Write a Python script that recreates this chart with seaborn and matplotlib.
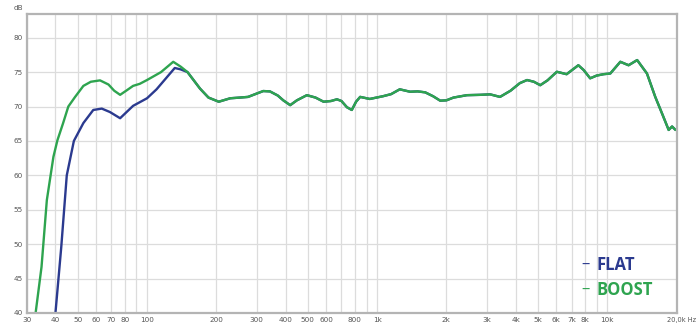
import matplotlib
matplotlib.use("Agg")
import matplotlib.pyplot as plt
import seaborn as sns
import pandas as pd

# Frequency response, measured points (Hz, dB)
flat_hz = [40, 42.4, 44.8, 48.1, 52.9, 58.4, 63.6, 69, 76.4, 87, 100, 110, 132, 140]
flat_db = [40.0, 49.6, 60.0, 65.0, 67.6, 69.5, 69.7, 69.2, 68.3, 70.1, 71.2, 72.5, 75.6, 75.4]

boost_hz = [32.8, 34.8, 36.7, 39.2, 40.8, 43.2, 45.5, 48.7, 52.9, 57, 62.5, 68, 72,
            76.4, 82, 87, 93, 100, 115, 130, 140]
boost_db = [40.0, 46.7, 56.4, 62.7, 65.1, 67.6, 70.0, 71.4, 73.0, 73.6, 73.8, 73.2, 72.3,
            71.7, 72.4, 73.0, 73.3, 73.85, 75.0, 76.5, 75.8]

# Above ~150 Hz both settings give the same response
shared_hz = [150, 170, 185, 205, 230, 253, 275, 290, 320, 342, 370, 391, 419, 448, 495,
             540, 585, 630, 669, 700, 739, 776, 810, 844, 929, 1061, 1150, 1254, 1391,
             1500, 1618, 1750, 1880, 2000, 2146, 2456, 2800, 3097, 3420, 3800, 4170,
             4482, 4800, 5115, 5500, 6040, 6660, 7490, 7900, 8430, 9000, 9645, 10310,
             11400, 12380, 13490, 14880, 16170, 17300, 18490, 19130, 19800]
shared_db = [75.0, 72.6, 71.3, 70.7, 71.2, 71.3, 71.4, 71.7, 72.25, 72.2, 71.6, 70.9, 70.2,
             70.9, 71.65, 71.3, 70.7, 70.8, 71.05, 70.8, 69.9, 69.5, 70.7, 71.4, 71.1,
             71.5, 71.8, 72.5, 72.15, 72.2, 72.06, 71.5, 70.85, 70.9, 71.3, 71.65, 71.7,
             71.77, 71.4, 72.3, 73.4, 73.85, 73.6, 73.1, 73.8, 75.05, 74.7, 76.0, 75.3,
             74.1, 74.5, 74.7, 74.8, 76.5, 76.0, 76.75, 74.8, 71.4, 69.0, 66.6, 67.1, 66.6]

x_ticks = [30, 40, 50, 60, 70, 80, 90, 100, 200, 300, 400, 500, 600, 700, 800, 900,
           1000, 2000, 3000, 4000, 5000, 6000, 7000, 8000, 9000, 10000, 20000]
x_labels = ["30", "40", "50", "60", "70", "80", "", "100", "200", "300", "400", "500",
            "600", "", "800", "", "1k", "2k", "3k", "4k", "5k", "6k", "7k", "8k", "",
            "10k", ""]
end_label = "20,0k Hz"
y_ticks = [40, 45, 50, 55, 60, 65, 70, 75, 80]

series = ["FLAT", "BOOST"]
colors = {"FLAT": "#2b3a8f", "BOOST": "#2ea44f"}

df = pd.concat([
    pd.DataFrame({"Hz": flat_hz + shared_hz, "dB": flat_db + shared_db, "setting": "FLAT"}),
    pd.DataFrame({"Hz": boost_hz + shared_hz, "dB": boost_db + shared_db, "setting": "BOOST"}),
], ignore_index=True)

sns.set_theme(style="white")
plt.rcParams["font.family"] = ["DejaVu Sans"]

fig = plt.figure(figsize=(6.97, 3.26), dpi=100)
ax = fig.add_axes([0.0383, 0.0399, 0.9323, 0.9162])

sns.lineplot(data=df, x="Hz", y="dB", hue="setting", hue_order=series, palette=colors,
             sort=False, estimator=None, linewidth=1.7, legend=False, ax=ax)

ax.set_xscale("log")
ax.set_xlim(30, 20000)
ax.set_ylim(40, 83.4)
ax.set_xticks(x_ticks)
ax.set_xticklabels(x_labels)
ax.xaxis.set_minor_locator(matplotlib.ticker.NullLocator())
ax.set_yticks(y_ticks)
ax.set_yticklabels([str(v) for v in y_ticks])
ax.tick_params(axis="both", length=0, labelsize=5.2, labelcolor="#555555", pad=3)
ax.grid(True, color="#dcdcdc", linewidth=0.9)
ax.set_axisbelow(True)
for sp in ax.spines.values():
    sp.set_color("#b4b4b4")
    sp.set_linewidth(1.6)
ax.set_xlabel("")
ax.set_ylabel("")

# Axis unit captions
fig.text(14 / 697, 1 - 8 / 326, "dB", fontsize=5.2, color="#555555", ha="left", va="center")
fig.text(696 / 697, 1 - 320 / 326, end_label, fontsize=4.8, color="#555555",
         ha="right", va="center")

# Setting labels
for name, ypix in zip(series, [265, 290]):
    fig.text(581 / 697, 1 - ypix / 326, "–", fontsize=12, color=colors[name],
             ha="left", va="center", family=["Open Sans"])
    fig.text(596 / 697, 1 - ypix / 326, name, fontsize=12, color=colors[name],
             ha="left", va="center", fontweight="bold", family=["Open Sans"])

fig.savefig("out.png", dpi=100, facecolor="white")
